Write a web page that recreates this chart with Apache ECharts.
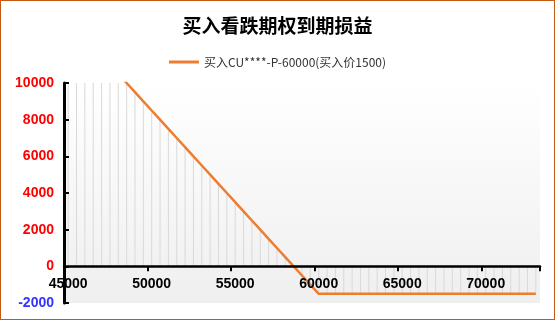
<!DOCTYPE html>
<html>
<head>
<meta charset="utf-8">
<script src="https://cdn.jsdelivr.net/npm/echarts@6/dist/echarts.min.js"></script>
<style>
html,body{margin:0;padding:0;background:#fff;}
#chart{position:absolute;left:0;top:0;width:555px;height:320px;}
#frame{position:absolute;left:0;top:0;width:553px;height:318px;border:1px solid #c55a11;pointer-events:none;}
</style>
</head>
<body>
<div id="chart"></div>
<div id="frame"></div>
<script>
const titleText = '买入看跌期权到期损益';
const seriesName = '买入CU****-P-60000(买入价1500)';
const prices = ['45000','45500','46000','46500','47000','47500','48000','48500','49000','49500',
  '50000','50500','51000','51500','52000','52500','53000','53500','54000','54500',
  '55000','55500','56000','56500','57000','57500','58000','58500','59000','59500',
  '60000','60500','61000','61500','62000','62500','63000','63500','64000','64500',
  '65000','65500','66000','66500','67000','67500','68000','68500','69000','69500',
  '70000','70500','71000','71500','72000','72500','73000'];
const payoff = [13500,13000,12500,12000,11500,11000,10500,10000,9500,9000,
  8500,8000,7500,7000,6500,6000,5500,5000,4500,4000,
  3500,3000,2500,2000,1500,1000,500,0,-500,-1000,
  -1500,-1500,-1500,-1500,-1500,-1500,-1500,-1500,-1500,-1500,
  -1500,-1500,-1500,-1500,-1500,-1500,-1500,-1500,-1500,-1500,
  -1500,-1500,-1500,-1500,-1500,-1500,-1500];
const yMin = -2000, yMax = 10000, yStep = 2000;

const gridTop = 83, gridBottom = 17, chartH = 320;
const plotH = chartH - gridTop - gridBottom;
const zeroOffset = -plotH * (0 - yMin) / (yMax - yMin);

const chart = echarts.init(document.getElementById('chart'), null, {renderer:'canvas'});
chart.setOption({
  animation: false,
  backgroundColor: '#ffffff',
  title: {
    text: titleText,
    left: 'center',
    top: 11,
    textStyle: {fontSize: 19, fontWeight: 'bold', color: '#000', fontFamily: '"Noto Sans CJK SC", sans-serif'}
  },
  legend: {
    data: [{name: seriesName, icon: 'rect'}],
    left: 'center',
    top: 51,
    itemWidth: 30,
    itemHeight: 3,
    itemGap: 10,
    textStyle: {fontSize: 12, color: '#333', fontFamily: '"Noto Sans CJK SC", sans-serif'}
  },
  grid: {
    left: 64, right: 15, top: gridTop, bottom: gridBottom,
    containLabel: false,
    outerBoundsMode: 'none',
    show: true,
    z: 0,
    borderWidth: 0,
    backgroundColor: new echarts.graphic.LinearGradient(0, 0, 0, 1, [
      {offset: 0, color: '#ffffff'},
      {offset: 1, color: '#efefef'}
    ])
  },
  xAxis: {
    type: 'category',
    data: prices,
    boundaryGap: true,
    position: 'bottom',
    offset: zeroOffset,
    z: 10,
    axisLine: {show: true, onZero: false, lineStyle: {color: '#000', width: 2.5}},
    axisTick: {show: true, interval: 9, length: 5, lineStyle: {color: '#000', width: 2}},
    axisLabel: {interval: 9, margin: 11, color: '#000', fontSize: 14, fontWeight: 'bold', fontFamily: '"Liberation Sans", Arial, sans-serif'},
    splitLine: {show: false}
  },
  yAxis: {
    type: 'value',
    position: 'left',
    min: yMin, max: yMax, interval: yStep,
    z: 10,
    axisLine: {show: true, onZero: false, lineStyle: {color: '#000000', width: 3, opacity: 1}},
    axisTick: {show: true, inside: true, length: 5, lineStyle: {color: '#000000', width: 2}},
    axisLabel: {
      margin: 10,
      fontSize: 14, fontWeight: 'bold', fontFamily: '"Liberation Sans", Arial, sans-serif',
      formatter: function (v) { return String(v); },
      color: function (v) { return Number(v) < 0 ? '#3333ff' : '#ff0000'; }
    },
    splitLine: {show: false}
  },
  series: [
    {
      name: 'drop',
      type: 'bar',
      data: payoff,
      barWidth: 1,
      clip: true,
      itemStyle: {color: '#d9d9d9'},
      silent: true,
      z: 1
    },
    {
      name: seriesName,
      type: 'line',
      data: payoff,
      symbol: 'none',
      showSymbol: false,
      clip: true,
      lineStyle: {color: '#ed7d31', width: 2.5},
      itemStyle: {color: '#ed7d31'},
      z: 3
    }
  ]
});
</script>
</body>
</html>
